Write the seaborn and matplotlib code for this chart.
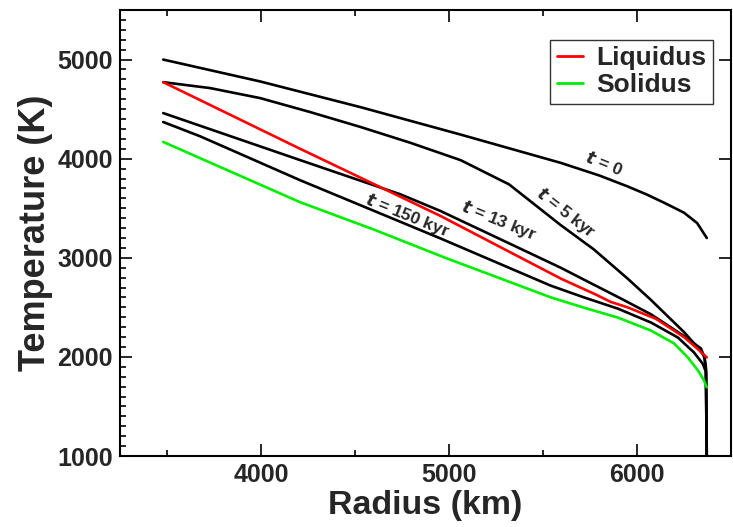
import numpy as np
import pandas as pd
import matplotlib
matplotlib.use('Agg')
import matplotlib.pyplot as plt
import seaborn as sns
from matplotlib.ticker import MultipleLocator

# radius (km) / temperature (K)
t0_r = [3480, 3996, 4529, 5062, 5594, 5800, 5950, 6050, 6150, 6250, 6320, 6371]
t0_T = [5000, 4779, 4520, 4243, 3958, 3830, 3720, 3640, 3550, 3455, 3350, 3200]

t5_r = [3480, 3730, 3996, 4262, 4529, 4795, 5062, 5320, 5594, 5770, 5950, 6074, 6250, 6330, 6356, 6366, 6371]
t5_T = [4772, 4712, 4611, 4470, 4320, 4160, 3985, 3740, 3330, 3085, 2790, 2575, 2250, 2080, 2010, 1900, 1000]

t13_r = [3480, 4209, 4742, 4955, 5594, 5717, 5898, 6074, 6250, 6340, 6360, 6368, 6371]
t13_T = [4460, 3985, 3640, 3472, 2900, 2780, 2605, 2430, 2210, 2085, 1990, 1850, 1000]

t150_r = [3480, 3676, 4209, 4955, 5541, 5717, 5898, 6074, 6217, 6303, 6350, 6366, 6371]
t150_T = [4370, 4226, 3782, 3195, 2719, 2601, 2487, 2347, 2196, 2045, 1930, 1850, 1000]

liq_r = [3480, 4209, 4955, 5600, 5780, 5860, 5950, 6100, 6250, 6320, 6371]
liq_T = [4772, 4099, 3422, 2785, 2630, 2555, 2500, 2385, 2200, 2085, 1995]

sol_r = [3480, 4209, 4600, 4980, 5541, 5717, 5898, 6074, 6197, 6270, 6324, 6356, 6371]
sol_T = [4169, 3560, 3285, 3000, 2601, 2497, 2397, 2266, 2136, 1995, 1864, 1764, 1693]

labels = ['t = 0', 't = 5 kyr', 't = 13 kyr', 't = 150 kyr']
label_r = [5823, 5621, 5264, 4779]
label_T = [3955, 3452, 3372, 3422]
label_rot = [-22, -38, -22, -22]

sns.set_style('ticks')
plt.rcParams['font.family'] = ['Liberation Sans', 'DejaVu Sans']
plt.rcParams['font.weight'] = 'bold'

fig = plt.figure(figsize=(7.33, 5.27), dpi=100)
ax = fig.add_axes([0.1637, 0.1347, 0.8336, 0.8463])

lw = 1.9
for r, T in [(t0_r, t0_T), (t5_r, t5_T), (t13_r, t13_T), (t150_r, t150_T)]:
    sns.lineplot(x=r, y=T, ax=ax, color='black', lw=lw, sort=False, estimator=None)
sns.lineplot(x=liq_r, y=liq_T, ax=ax, color='#ff0000', lw=lw, sort=False, estimator=None, label='Liquidus')
sns.lineplot(x=sol_r, y=sol_T, ax=ax, color='#00ee00', lw=lw, sort=False, estimator=None, label='Solidus')

for txt, r, T, rot in zip(labels, label_r, label_T, label_rot):
    t_part, rest = txt.split(' ', 1)
    ax.text(r, T, r'$\mathbfit{t}$' + ' ' + rest, rotation=rot, ha='center', va='center',
            fontsize=12.5, fontweight='bold', rotation_mode='anchor')

ax.set_xlim(3250, 6500)
ax.set_ylim(1000, 5500)
ax.xaxis.set_major_locator(MultipleLocator(1000))
ax.xaxis.set_minor_locator(MultipleLocator(500))
ax.yaxis.set_major_locator(MultipleLocator(1000))
ax.yaxis.set_minor_locator(MultipleLocator(100))
ax.tick_params(which='both', direction='in', top=True, right=True, width=1.4,
               labelsize=18, pad=5)
ax.tick_params(which='major', length=8.5)
ax.tick_params(which='minor', length=4.5)
ax.tick_params(axis='y', which='minor', right=False)
for lab in ax.get_xticklabels() + ax.get_yticklabels():
    lab.set_fontweight('bold')
for s in ax.spines.values():
    s.set_linewidth(1.5)
    s.set_color('black')

ax.set_xlabel('Radius (km)', fontsize=24.5, fontweight='bold', labelpad=2)
ax.set_ylabel('Temperature (K)', fontsize=26, fontweight='bold', labelpad=3)

leg = ax.legend(loc='upper right', bbox_to_anchor=(0.9705, 0.933), fontsize=19,
                frameon=True, fancybox=False, handlelength=1.0, handletextpad=0.5,
                borderpad=0.25, labelspacing=0.1, borderaxespad=0)
leg.get_frame().set_edgecolor('black')
leg.get_frame().set_linewidth(1.0)
for line in leg.get_lines():
    line.set_linewidth(2.0)
for t in leg.get_texts():
    t.set_fontweight('bold')

fig.savefig('out.png', dpi=100)
